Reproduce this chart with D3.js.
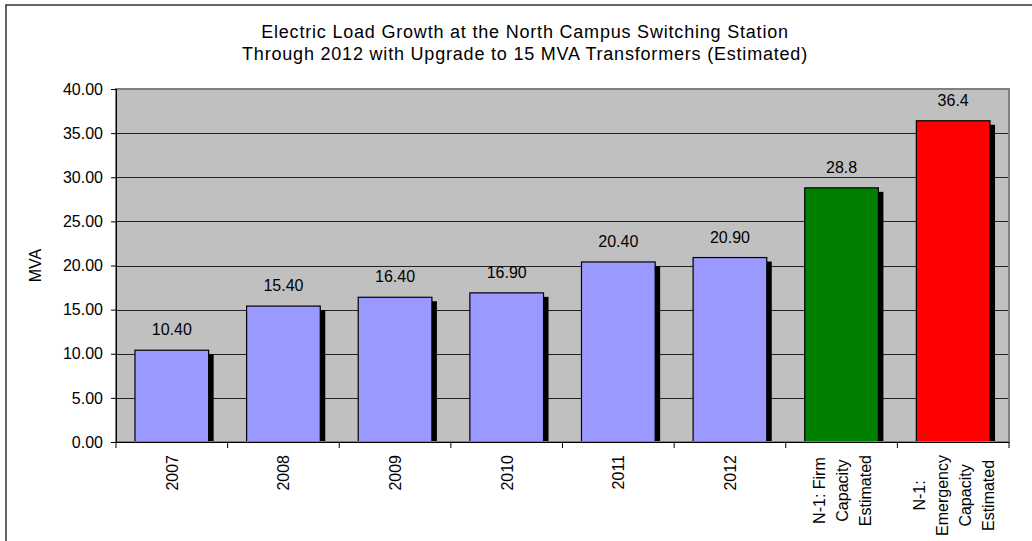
<!DOCTYPE html>
<html>
<head>
<meta charset="utf-8">
<script src="https://cdn.jsdelivr.net/npm/d3@7"></script>
<style>
  body { margin: 0; background: #fff; }
  svg text { font-family: "Liberation Sans", Arial, sans-serif; fill: #000; }
</style>
</head>
<body>
<script>
const categories = ["2007", "2008", "2009", "2010", "2011", "2012", "N-1: Firm|Capacity|Estimated", "N-1:|Emergency|Capacity|Estimated"];
const values = [10.4, 15.4, 16.4, 16.9, 20.4, 20.9, 28.8, 36.4];
const valueLabels = ["10.40", "15.40", "16.40", "16.90", "20.40", "20.90", "28.8", "36.4"];
const barColors = ["#9999FF", "#9999FF", "#9999FF", "#9999FF", "#9999FF", "#9999FF", "#008000", "#FF0000"];
const yTicks = [0, 5, 10, 15, 20, 25, 30, 35, 40];
const titleLines = ["Electric Load Growth at the North Campus Switching Station", "Through 2012 with Upgrade to 15 MVA Transformers (Estimated)"];

const W = 1032, H = 541;
const margin = {top: 89, right: 23, bottom: 99, left: 116};
const width = W - margin.left - margin.right,
      height = H - margin.top - margin.bottom;

const svg = d3.select("body").append("svg")
    .attr("width", W)
    .attr("height", H);

// outer chart frame
svg.append("rect")
    .attr("x", 6).attr("y", 5)
    .attr("width", W + 20).attr("height", H + 20)
    .attr("fill", "#fff")
    .attr("stroke", "#333")
    .attr("stroke-width", 1.5);

svg.selectAll(".title")
    .data(titleLines)
    .enter().append("text")
    .attr("class", "title")
    .attr("x", 525)
    .attr("y", (d, i) => 38 + i * 22)
    .attr("text-anchor", "middle")
    .style("font-size", "18px")
    .style("letter-spacing", "0.8px")
    .text(d => d);

const g = svg.append("g")
    .attr("transform", `translate(${margin.left},${margin.top})`);

const x = d3.scaleBand()
    .domain(categories)
    .range([0, width])
    .paddingInner(0.34)
    .paddingOuter(0.17);

const y = d3.scaleLinear()
    .domain([0, 40])
    .range([height, 0]);

g.append("rect")
    .attr("width", width)
    .attr("height", height)
    .attr("fill", "#C0C0C0");

// gridlines
g.selectAll(".grid")
    .data(yTicks.slice(1, -1))
    .enter().append("line")
    .attr("x1", 0).attr("x2", width)
    .attr("y1", d => Math.round(y(d)) + 0.5)
    .attr("y2", d => Math.round(y(d)) + 0.5)
    .attr("stroke", "#222")
    .attr("stroke-width", 1);

// shadows
g.selectAll(".shadow")
    .data(values)
    .enter().append("rect")
    .attr("x", (d, i) => x(categories[i]) + 5)
    .attr("y", d => y(d) + 4)
    .attr("width", x.bandwidth())
    .attr("height", d => height - y(d) - 4)
    .attr("fill", "#000");

g.selectAll(".bar")
    .data(values)
    .enter().append("rect")
    .attr("x", (d, i) => x(categories[i]))
    .attr("y", d => y(d))
    .attr("width", x.bandwidth())
    .attr("height", d => height - y(d))
    .attr("fill", (d, i) => barColors[i])
    .attr("stroke", "#000")
    .attr("stroke-width", 1.2);

g.selectAll(".vlabel")
    .data(values)
    .enter().append("text")
    .attr("x", (d, i) => x(categories[i]) + x.bandwidth() / 2)
    .attr("y", d => y(d) - 15)
    .attr("text-anchor", "middle")
    .style("font-size", "16px")
    .text((d, i) => valueLabels[i]);

// plot border
g.append("rect")
    .attr("width", width)
    .attr("height", height)
    .attr("fill", "none")
    .attr("stroke", "#808080")
    .attr("stroke-width", 2);

// y axis
const yAxis = g.append("g")
    .call(d3.axisLeft(y).tickValues(yTicks).tickFormat(d3.format(".2f")).tickSize(5).tickPadding(8));
yAxis.select(".domain").attr("stroke", "#000");
yAxis.selectAll("line").attr("stroke", "#000");
yAxis.selectAll("text").style("font-size", "16px").style("font-family", "Liberation Sans, Arial, sans-serif");

// x axis: ticks at band boundaries
const bounds = d3.range(categories.length + 1).map(i => i * width / categories.length);
g.append("line")
    .attr("x1", 0).attr("x2", width)
    .attr("y1", height + 0.5).attr("y2", height + 0.5)
    .attr("stroke", "#000");
g.selectAll(".xtick")
    .data(bounds)
    .enter().append("line")
    .attr("x1", d => d).attr("x2", d => d)
    .attr("y1", height).attr("y2", height + 6)
    .attr("stroke", "#000");

// rotated category labels
categories.forEach(c => {
    const lines = c.split("|");
    const cx = x(c) + x.bandwidth() / 2;
    const lab = g.append("g");
    const texts = lab.selectAll("text")
        .data(lines)
        .enter().append("text")
        .attr("text-anchor", "middle")
        .style("font-size", "16px")
        .text(d => d);
    const maxLen = d3.max(texts.nodes(), n => n.getComputedTextLength());
    const cy = height + 13 + maxLen / 2;
    const lh = 23;
    texts.attr("transform", (d, i) => {
        const px = cx + (i - (lines.length - 1) / 2) * lh + 6;
        return `translate(${px},${cy}) rotate(-90)`;
    });
});

svg.append("text")
    .attr("transform", `translate(41,${margin.top + height / 2}) rotate(-90)`)
    .attr("text-anchor", "middle")
    .style("font-size", "16px")
    .text("MVA");
</script>
</body>
</html>
